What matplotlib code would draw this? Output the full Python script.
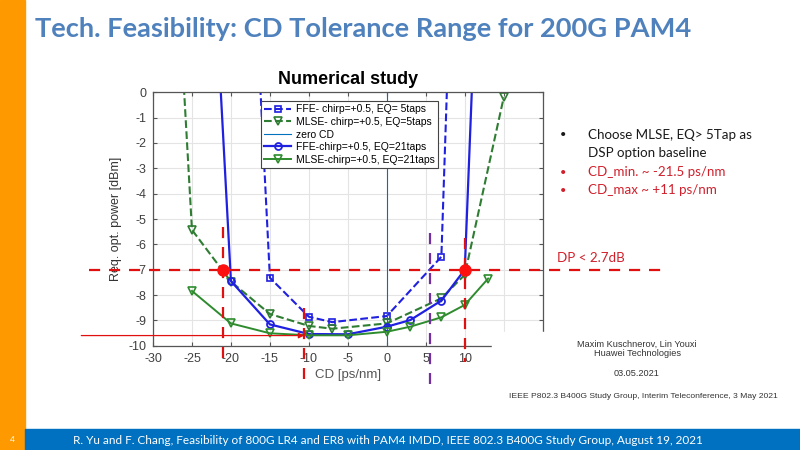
import matplotlib
matplotlib.use('Agg')
import matplotlib.pyplot as plt
from matplotlib.patches import Rectangle

plt.rcParams['axes.unicode_minus'] = False

# CD sweep points [ps/nm] and required optical power [dBm] for each DSP option
cd_ffe5 = [-20, -15, -10, -7, 0, 7, 10]
p_ffe5 = [23.2, -7.32, -8.86, -9.07, -8.83, -6.49, 21.3]

cd_mlse5 = [-30, -25, -20, -15, -10, -7, 0, 7, 10, 15]
p_mlse5 = [21.7, -5.43, -7.47, -8.75, -9.22, -9.33, -9.12, -8.13, -7.2, -0.2]

cd_ffe21 = [-25, -20, -15, -10, -5, 0, 3, 7, 10, 15]
p_ffe21 = [21.2, -7.45, -9.16, -9.54, -9.55, -9.25, -8.99, -8.22, -7.0, 31.9]

cd_mlse21 = [-25, -20, -15, -10, -5, 0, 3, 7, 10, 13]
p_mlse21 = [-7.84, -9.12, -9.51, -9.59, -9.59, -9.45, -9.25, -8.88, -8.39, -7.35]

labels = ['FFE- chirp=+0.5, EQ= 5taps', 'MLSE- chirp=+0.5, EQ=5taps', 'zero CD',
          'FFE-chirp=+0.5, EQ=21taps', 'MLSE-chirp=+0.5, EQ=21taps']

# annotation values
dp_level = -7.0
cd_min = -21.0
cd_max = 10.0
cd_mid = -10.6
cd_purple = 5.6
floor_level = -9.6

x_ticks = list(range(-30, 21, 5))
y_ticks = list(range(-10, 1))

bullets = ['Choose MLSE, EQ> 5Tap as', 'DSP option baseline',
           'CD_min. ~ -21.5 ps/nm', 'CD_max ~ +11 ps/nm']
bullet_colors = ['#1a1a1a', None, '#d0202c', '#d0202c']

fig = plt.figure(figsize=(8, 4.5), dpi=100)

# slide decorations
fig.patches.append(Rectangle((0, 0), 25 / 800, 1, transform=fig.transFigure,
                             color='#ff9900', zorder=0))
fig.patches.append(Rectangle((25 / 800, 0), 1, 21 / 450, transform=fig.transFigure,
                             color='#0070c0', zorder=0))
fig.text(35 / 800, 1 - 29 / 450, 'Tech. Feasibility: CD Tolerance Range for 200G PAM4',
         fontsize=19.6, fontweight='bold', color='#4f81bd', family='Lato', va='center')
fig.text(12 / 800, 10 / 450, '4', fontsize=6, color='white', ha='center', va='center',
         family='Lato')
fig.text(73 / 800, 10 / 450,
         'R. Yu and F. Chang, Feasibility of 800G LR4 and ER8 with PAM4 IMDD, '
         'IEEE 802.3 B400G Study Group, August 19, 2021',
         fontsize=8.5, color='white', va='center', family='Lato')

ax = fig.add_axes([153 / 800, 1 - 345.7 / 450, 389.7 / 800, 253.4 / 450])
ax.set_xlim(-30, 20)
ax.set_ylim(-10, 0)

ax.plot(cd_ffe5, p_ffe5, '--s', color='#2020e0', lw=1.5, ms=5, mfc='none', mew=1.2,
        label=labels[0])
ax.plot(cd_mlse5, p_mlse5, '--v', color='#2e7d32', lw=1.5, ms=6, mfc='none', mew=1.2,
        label=labels[1])
ax.axvline(0, color='#0072bd', lw=0.8, label=labels[2])
ax.plot(cd_ffe21, p_ffe21, '-o', color='#2020e0', lw=1.6, ms=5, mfc='none', mew=1.3,
        label=labels[3])
ax.plot(cd_mlse21, p_mlse21, '-v', color='#2e8b2e', lw=1.4, ms=6, mfc='none', mew=1.2,
        label=labels[4])

ax.set_xticks(x_ticks)
ax.set_xticklabels([str(t) if t <= 10 else '' for t in x_ticks])
ax.set_yticks(y_ticks)
ax.tick_params(direction='in', length=3, labelsize=9, labelcolor='#404040',
               top=True, right=True, color='#555555')
ax.tick_params(axis='y', pad=5)
ax.tick_params(axis='x', pad=5)
for lab in ax.get_xticklabels() + ax.get_yticklabels():
    lab.set_family('Liberation Sans')
ax.grid(True, color='#e4e4e4', lw=0.8)
ax.set_axisbelow(True)
for s in ax.spines.values():
    s.set_color('#555555')
    s.set_linewidth(0.9)

ax.set_title('Numerical study', fontsize=13, fontweight='bold', family='Liberation Sans',
             pad=6)
ax.set_ylabel('Req. opt. power [dBm]', fontsize=9, family='Liberation Sans',
              color='#333333', labelpad=4)
ax.set_xlabel('CD [ps/nm]', fontsize=9.5, family='Liberation Sans', color='#555555',
              labelpad=3)

leg = ax.legend(loc='upper left', bbox_to_anchor=(0.277, 0.965),
                prop={'family': 'Liberation Sans', 'size': 7.5}, handlelength=2.6,
                borderpad=0.3, labelspacing=0.25, fancybox=False, framealpha=1,
                edgecolor='#444444', borderaxespad=0, handletextpad=0.5)
leg.get_frame().set_linewidth(0.8)

# red/purple annotations in data coordinates
ax.plot([-38.2, 35.6], [dp_level, dp_level], '--', color='#e01010', lw=1.6,
        dashes=(5, 4), clip_on=False, zorder=5)
ax.plot([cd_min, cd_min], [-5.32, -10.5], '--', color='#e01010', lw=1.6, dashes=(5, 4),
        clip_on=False, zorder=5)
ax.plot([cd_max, cd_max], [-5.76, -10.66], '--', color='#e01010', lw=1.6, dashes=(5, 4),
        clip_on=False, zorder=5)
ax.plot([cd_mid, cd_mid], [-8.53, -11.3], '--', color='#e01010', lw=1.6, dashes=(5, 4),
        clip_on=False, zorder=5)
ax.plot([cd_purple, cd_purple], [-5.56, -11.5], '--', color='#7030a0', lw=1.6,
        dashes=(5, 4), clip_on=False, zorder=5)
ax.plot([cd_min, cd_max], [dp_level, dp_level], 'o', color='#ff1010', ms=8,
        clip_on=False, zorder=6)
ax.annotate('', xy=(cd_mid, floor_level), xytext=(-39.2, floor_level),
            arrowprops=dict(arrowstyle='-|>', color='#e01010', lw=0.9,
                            mutation_scale=8, shrinkA=0, shrinkB=0),
            annotation_clip=False, zorder=6)

# white block hiding the lower-right corner of the pasted chart
fig.patches.append(Rectangle((492 / 800, 1 - 385 / 450), 70 / 800, 53 / 450,
                             transform=fig.transFigure, color='white', zorder=3))

# right-hand text
ys = [135, 153, 172, 190]
for txt, col, y in zip(bullets, bullet_colors, ys):
    if col is not None:
        fig.text(560 / 800, 1 - y / 450, '•', fontsize=8, color=col, va='center',
                 family='Lato', zorder=4)
    fig.text(588 / 800, 1 - y / 450, txt, fontsize=9.6, va='center', family='Lato',
             color=col if col is not None else '#1a1a1a', zorder=4)
fig.text(557 / 800, 1 - 258 / 450, 'DP < 2.7dB', fontsize=9.6, color='#d0202c',
         va='center', family='Lato', zorder=4)

fig.text(637 / 800, 1 - 344 / 450, 'Maxim Kuschnerov, Lin Youxi', fontsize=6.6,
         color='#333333', ha='center', va='center', family='Liberation Sans', zorder=4)
fig.text(637 / 800, 1 - 353 / 450, 'Huawei Technologies', fontsize=6.6,
         color='#333333', ha='center', va='center', family='Liberation Sans', zorder=4)
fig.text(637 / 800, 1 - 374 / 450, '03.05.2021', fontsize=6.6,
         color='#333333', ha='center', va='center', family='Liberation Sans', zorder=4)
fig.text(643 / 800, 1 - 396 / 450,
         'IEEE P802.3 B400G Study Group, Interim Teleconference, 3 May 2021',
         fontsize=6.1, color='#333333', ha='center', va='center',
         family='Liberation Sans', zorder=4)

fig.savefig('out.png', dpi=100)
plt.close(fig)
